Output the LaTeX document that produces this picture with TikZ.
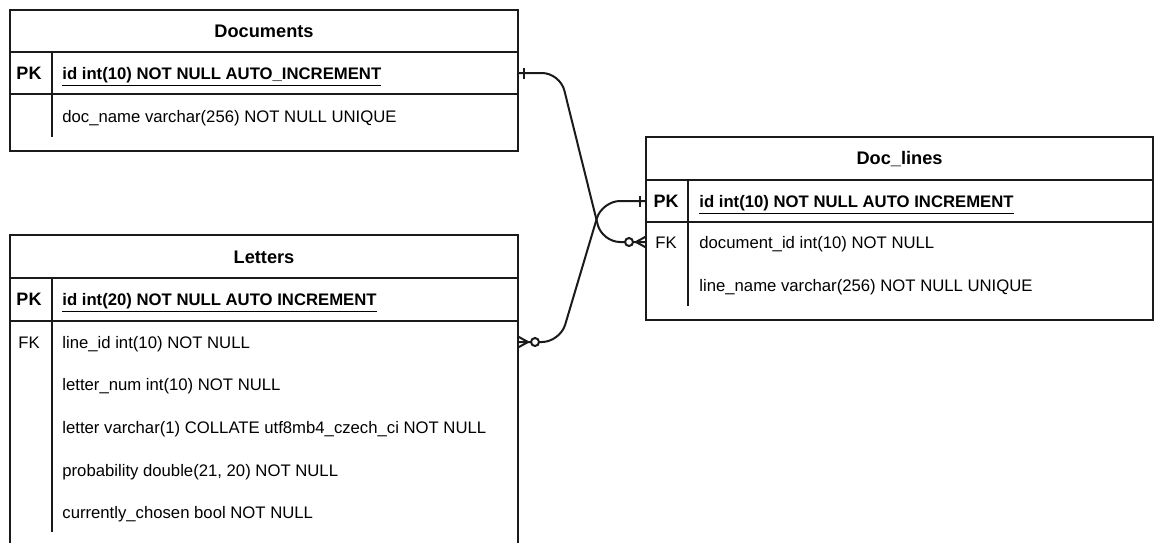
\documentclass[tikz,border=0pt]{standalone}
\usepackage{fontspec}
\setmainfont{Liberation Sans}
\usepackage{xcolor}
\usepackage{tikz}
\usetikzlibrary{positioning}
\definecolor{linec}{HTML}{1A1A1A}
\tikzset{
  tbl/.style={draw=linec,line width=1pt,inner sep=0pt,outer sep=0pt,fill=white},
  ttl/.style={font=\fontsize{9.1}{11}\selectfont\bfseries,inner sep=0pt,anchor=base},
  key/.style={font=\fontsize{8.35}{10}\selectfont,inner sep=0pt,anchor=base},
  pkey/.style={font=\fontsize{9}{11}\selectfont\bfseries,inner sep=0pt,anchor=base},
  fld/.style={font=\fontsize{8.35}{10}\selectfont,anchor=base west,inner sep=0pt},
  pfld/.style={font=\fontsize{8.35}{10}\selectfont\bfseries,anchor=base west,inner sep=0pt},
  sep/.style={draw=linec,line width=1pt},
  rel/.style={draw=linec,line width=1pt,rounded corners=9pt},
  ring/.style={draw=linec,line width=1pt,fill=white}
}

\begin{document}
\begin{tikzpicture}[x=0.5pt,y=-0.5pt]
\clip (0,0) rectangle (1154,542);
% tables
\node[tbl,minimum width=254pt,minimum height=70.5pt] (docs) at (264,80.5) {};
\node[tbl,minimum width=253.5pt,minimum height=91.5pt] (doclines) at (899.5,228.5) {};
\node[tbl,minimum width=254pt,minimum height=155pt] (letters) at (264,390) {};
% Documents
\draw[sep] (docs.west |- 0,52) -- (docs.east |- 0,52);
\draw[sep] (docs.west |- 0,94) -- (docs.east |- 0,94);
\draw[sep] (52,52) -- (52,137);
\node[ttl] (docs-t) at (264,37) {Documents};
\node[pkey] (docs-pk) at (29,79) {PK};
\node[pfld] (docs-id) at (62,79) {\underline{id int(10) NOT NULL AUTO\_INCREMENT}};
\node[fld] (docs-name) at (62,122) {doc\_name varchar(256) NOT NULL UNIQUE};
% Doc_lines
\draw[sep] (doclines.west |- 0,180) -- (doclines.east |- 0,180);
\draw[sep] (doclines.west |- 0,222) -- (doclines.east |- 0,222);
\draw[sep] (688,180) -- (688,306);
\node[ttl] (dl-t) at (899.5,164) {Doc\_lines};
\node[pkey] (dl-pk) at (666,207) {PK};
\node[pfld] (dl-id) at (699,207) {\underline{id int(10) NOT NULL AUTO INCREMENT}};
\node[key] (dl-fk) at (666,248) {FK};
\node[fld] (dl-doc) at (699,248) {document\_id int(10) NOT NULL};
\node[fld] (dl-name) at (699,291) {line\_name varchar(256) NOT NULL UNIQUE};
% Letters
\draw[sep] (letters.west |- 0,278) -- (letters.east |- 0,278);
\draw[sep] (letters.west |- 0,321) -- (letters.east |- 0,321);
\draw[sep] (52,278) -- (52,532);
\node[ttl] (lt-t) at (264,263) {Letters};
\node[pkey] (lt-pk) at (29,305) {PK};
\node[pfld] (lt-id) at (62,305) {\underline{id int(20) NOT NULL AUTO INCREMENT}};
\node[key] (lt-fk) at (29,348) {FK};
\node[fld] (lt-line) at (62,348) {line\_id int(10) NOT NULL};
\node[fld] (lt-num) at (62,390) {letter\_num int(10) NOT NULL};
\node[fld] (lt-letter) at (62,433) {letter varchar(1) COLLATE utf8mb4\_czech\_ci NOT NULL};
\node[fld] (lt-prob) at (62,476) {probability double(21, 20) NOT NULL};
\node[fld] (lt-cur) at (62,518) {currently\_chosen bool NOT NULL};
% relations
\coordinate (c1) at (docs.east |- 0,73);
\coordinate (c2) at (doclines.west |- 0,242);
\coordinate (c3) at (letters.east |- 0,342);
\coordinate (c4) at (doclines.west |- 0,201);
\draw[rel] (c1) -- (560,73) -- (602,242) -- (c2);
\draw[rel] (c3) -- (560,342) -- (602,201) -- (c4);
% one ends
\draw[sep] ([xshift=3pt,yshift=-2.75pt]c1) -- ([xshift=3pt,yshift=2.75pt]c1);
\draw[sep] ([xshift=-3pt,yshift=-2.75pt]c4) -- ([xshift=-3pt,yshift=2.75pt]c4);
% many ends
\draw[sep] ([yshift=2.75pt]c2) -- ([xshift=-5pt]c2) -- ([yshift=-2.75pt]c2);
\draw[ring] ([xshift=-8.5pt]c2) circle (2pt);
\draw[sep] ([yshift=2.75pt]c3) -- ([xshift=5pt]c3) -- ([yshift=-2.75pt]c3);
\draw[ring] ([xshift=8.5pt]c3) circle (2pt);
\end{tikzpicture}
\end{document}
